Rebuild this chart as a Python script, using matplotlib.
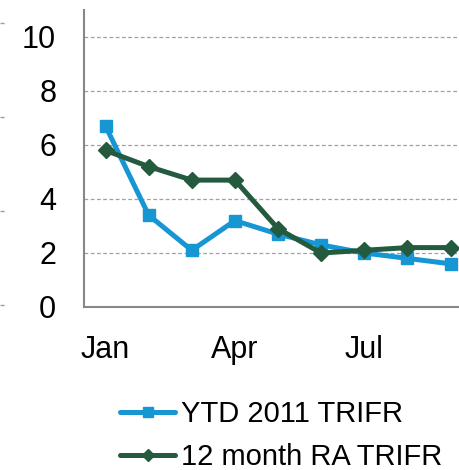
import matplotlib
matplotlib.use('Agg')
import matplotlib.pyplot as plt
from matplotlib.lines import Line2D

months = ["Jan", "Feb", "Mar", "Apr", "May", "Jun", "Jul", "Aug", "Sep"]
ytd_2011 = [6.7, 3.4, 2.1, 3.2, 2.7, 2.3, 2.0, 1.8, 1.6]
ra_12month = [5.8, 5.2, 4.7, 4.7, 2.9, 2.0, 2.1, 2.2, 2.2]
yticks = [0, 2, 4, 6, 8, 10]
xtick_labels = ["Jan", "Apr", "Jul"]

plt.rcParams['font.family'] = ['Liberation Sans', 'DejaVu Sans']

blue = "#1796D4"
green = "#245A3E"

fig = plt.figure(figsize=(4.6, 4.7), dpi=100)
ax = fig.add_axes([84 / 460, 1 - 307 / 470, 1 - 84 / 460, 297 / 470])

x = list(range(len(months)))
ax.plot(x, ytd_2011, color=blue, linewidth=3.6, marker="s", markersize=9,
        label="YTD 2011 TRIFR", zorder=3)
ax.plot(x, ra_12month, color=green, linewidth=3.6, marker="D", markersize=8,
        label="12 month RA TRIFR", zorder=4)

ax.set_ylim(0, 11)
ax.set_xlim(-0.5, 8.22)
ax.set_yticks(yticks)
ax.set_xticks([months.index(m) for m in xtick_labels])
ax.set_xticklabels(xtick_labels)
ax.tick_params(axis='both', length=0, labelsize=22)
ax.tick_params(axis='y', pad=20)
ax.tick_params(axis='x', pad=20)

ax.grid(axis='y', color="#A0A0A0", linestyle=(0, (3, 2)), linewidth=0.9)
ax.set_axisbelow(True)
for side in ['top', 'right']:
    ax.spines[side].set_visible(False)
for side in ['left', 'bottom']:
    ax.spines[side].set_color("#888888")
    ax.spines[side].set_linewidth(1.5)

# bits of the neighbouring chart's axis at the far left edge
for yp in [23, 117, 211, 305]:
    fig.add_artist(Line2D([0, 7 / 460], [1 - yp / 470] * 2,
                          color="#A0A0A0", linewidth=1, linestyle=(0, (3, 2))))

leg = ax.legend(loc='upper left', bbox_to_anchor=(120 / 460, 1 - 400 / 470),
                bbox_transform=fig.transFigure, frameon=False, fontsize=21,
                handlelength=1.9, handletextpad=0.2, labelspacing=0.52,
                borderpad=0, borderaxespad=0, markerscale=0.8)
for line in leg.get_lines():
    line.set_solid_capstyle('round')

fig.savefig("out.png", dpi=100)
